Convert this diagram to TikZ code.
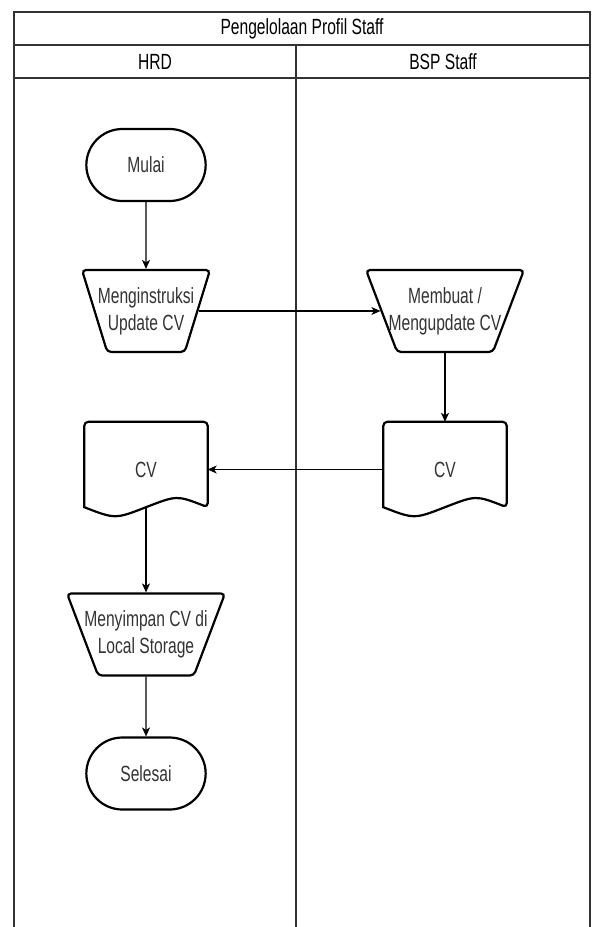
\documentclass[tikz,border=0pt]{standalone}
\usepackage{fontspec}
\setmainfont{Liberation Sans}[FakeStretch=0.71]
\usepackage{tikz}
\usetikzlibrary{shapes.geometric,shapes.misc,arrows.meta,calc}
\definecolor{teks}{HTML}{333333}
\tikzset{
	lane/.style={draw=black!80,line width=1.5pt},
	txt/.style={text=teks,font=\fontsize{22}{27}\selectfont,align=center},
	term/.style={rounded rectangle,draw,line width=2.2pt,minimum width=126pt,minimum height=72pt,txt},
	trap/.style 2 args={trapezium,trapezium stretches=true,shape border rotate=180,trapezium left angle=72,trapezium right angle=72,draw,line width=2.2pt,rounded corners=4pt,minimum width=#1,minimum height=82pt,label={[txt]center:#2}},
	docbox/.style={rectangle,minimum width=123pt,minimum height=95pt,txt},
	arr/.style={-{Stealth[length=9pt,width=8pt,inset=2.5pt]},line width=1.1pt}
}
\newcommand{\docline}[1]{%
	\draw [line width=2.2pt] ([yshift=10pt]#1.south west) [rounded corners=4pt] -- (#1.north west) -- (#1.north east) -- ([yshift=10pt]#1.south east) [sharp corners] .. controls ($(#1.south west)!0.75!(#1.south east)+(0,22)$) .. ([yshift=10pt]#1.south) .. controls ($(#1.south west)!0.25!(#1.south east)+(0,-2)$) .. ([yshift=10pt]#1.south west) -- cycle;
}

\begin{document}
\begin{tikzpicture}[x=1pt,y=1pt]
	\useasboundingbox (0,0) rectangle (592,-927);
	% kolam dan lajur
	\draw [lane] (14,-927) -- (14,-12) -- (590,-12) -- (590,-927);
	\draw [lane] (14,-45) -- (590,-45) (14,-78) -- (590,-78) (296,-45) -- (296,-927);
	\node [txt,text=black] (judul) at (302,-28.5) {Pengelolaan Profil Staff};
	\node [txt,text=black] (hrd) at (155,-61.5) {HRD};
	\node [txt,text=black] (bsp) at (443,-61.5) {BSP Staff};

	\node [term] (mulai) at (146,-165) {Mulai};
	\node [trap={128pt}{Menginstruksi\\Update CV}] (instr) at (146,-311) {};
	\node [trap={158pt}{Membuat /\\Mengupdate CV}] (buat) at (445,-311) {};
	\node [docbox] (cvr) at (445,-469.5) {CV};
	\node [docbox] (cvl) at (146,-469.5) {CV};
	\node [trap={158pt}{Menyimpan CV di\\Local Storage}] (simpan) at (146,-634.5) {};
	\node [term] (selesai) at (146,-773.5) {Selesai};
	\docline{cvr}
	\docline{cvl}

	\draw [arr] (mulai) -- (instr);
	\draw [arr] (instr) -- (buat);
	\draw [arr] (buat) -- (cvr);
	\draw [arr] (cvr) -- (cvl);
	\draw [arr] ([yshift=10pt]cvl.south) -- (simpan);
	\draw [arr] (simpan) -- (selesai);
\end{tikzpicture}
\end{document}
